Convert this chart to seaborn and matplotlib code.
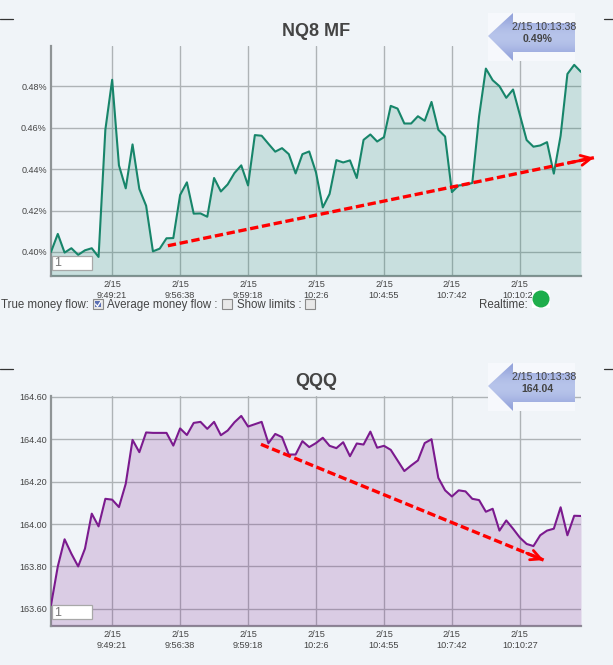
#!/usr/bin/env python3
import matplotlib
matplotlib.use('Agg')
import matplotlib.pyplot as plt
from matplotlib.patches import Polygon, Rectangle, Circle
import numpy as np
import pandas as pd
import seaborn as sns

TICK_POS = [9, 19, 29, 39, 49, 59, 69]
TICK_TIMES = ['9:49:21', '9:56:38', '9:59:18', '10:2:6', '10:4:55', '10:7:42', '10:10:27']

MF_VALUES = [
    0.4000, 0.4087, 0.3997, 0.4018, 0.3986, 0.4008, 0.4018, 0.3976, 0.4590, 0.4831,
    0.4418, 0.4307, 0.4519, 0.4304, 0.4223, 0.4003, 0.4016, 0.4066, 0.4067, 0.4275,
    0.4336, 0.4185, 0.4186, 0.4170, 0.4357, 0.4292, 0.4326, 0.4381, 0.4418, 0.4321,
    0.4564, 0.4561, 0.4522, 0.4484, 0.4501, 0.4472, 0.4379, 0.4472, 0.4485, 0.4384,
    0.4215, 0.4280, 0.4443, 0.4432, 0.4442, 0.4357, 0.4541, 0.4567, 0.4533, 0.4554,
    0.4705, 0.4692, 0.4620, 0.4620, 0.4655, 0.4633, 0.4724, 0.4590, 0.4557, 0.4289,
    0.4321, 0.4324, 0.4333, 0.4654, 0.4885, 0.4829, 0.4800, 0.4744, 0.4784, 0.4662,
    0.4540, 0.4508, 0.4514, 0.4530, 0.4378, 0.4561, 0.4859, 0.4903, 0.4869,
]
QQQ_VALUES = [
    163.617, 163.800, 163.928, 163.860, 163.800, 163.884, 164.049, 163.989, 164.119, 164.115,
    164.080, 164.190, 164.397, 164.339, 164.432, 164.430, 164.430, 164.430, 164.370, 164.451,
    164.420, 164.477, 164.482, 164.449, 164.482, 164.419, 164.441, 164.480, 164.510, 164.460,
    164.471, 164.482, 164.381, 164.425, 164.410, 164.328, 164.328, 164.391, 164.363, 164.382,
    164.407, 164.369, 164.358, 164.386, 164.320, 164.380, 164.375, 164.436, 164.360, 164.369,
    164.350, 164.300, 164.250, 164.276, 164.300, 164.382, 164.400, 164.218, 164.159, 164.130,
    164.159, 164.154, 164.119, 164.113, 164.058, 164.072, 163.969, 164.017, 163.978, 163.936,
    163.906, 163.896, 163.947, 163.969, 163.978, 164.079, 163.947, 164.039, 164.038,
]
MF_TICKS = [0.40, 0.42, 0.44, 0.46, 0.48]
QQQ_TICKS = [163.6, 163.8, 164.0, 164.2, 164.4, 164.6]
MF_TREND_X = [17.2, 79.9]
MF_TREND_Y = [0.4030, 0.4455]
QQQ_TREND_X = [30.9, 72.5]
QQQ_TREND_Y = [164.376, 163.830]

W, H = 613, 665
BG = '#f0f4f8'
TEXT = '#444444'
GRID = '#aeb3b6'
EDGE = '#8f9496'
FONT = ['Liberation Sans', 'DejaVu Sans']

sns.set_theme(style='white')
plt.rcParams['font.family'] = FONT


def px_axes(fig, left, top, right, bottom):
    return fig.add_axes([left / W, 1 - bottom / H, (right - left) / W, (bottom - top) / H])


def draw_panel(ax, values, color, ylim, yticks, yfmt, trend_x, trend_y):
    df = pd.DataFrame({'idx': np.arange(len(values)), 'value': values})
    ax.set_facecolor(BG)
    ax.fill_between(df['idx'], df['value'], ylim[0], color=color, alpha=0.18, lw=0, zorder=3)
    sns.lineplot(data=df, x='idx', y='value', color=color, linewidth=1.5, ax=ax, zorder=4)
    ax.set_xlim(0, len(values) - 1)
    ax.set_ylim(*ylim)
    ax.set_xticks(TICK_POS)
    ax.set_xticklabels(['2/15\n' + t for t in TICK_TIMES], fontsize=6.6, color=TEXT, linespacing=1.25)
    ax.set_yticks(yticks)
    ax.set_yticklabels([yfmt.format(v) for v in yticks], fontsize=6.5, color=TEXT)
    ax.set_xlabel('')
    ax.set_ylabel('')
    ax.tick_params(axis='both', length=0, pad=3)
    ax.grid(True, color=GRID, linewidth=1, zorder=1)
    ax.set_axisbelow(True)
    for side in ['top', 'right']:
        ax.spines[side].set_visible(False)
    for side in ['left', 'bottom']:
        ax.spines[side].set_color(EDGE)
        ax.spines[side].set_linewidth(1.6)

    # trend arrow, head drawn separately so it stays solid
    ax.plot(trend_x, trend_y, color='#ff0000', linewidth=2.4, linestyle=(0, (2.5, 1.1)),
            clip_on=False, zorder=6)
    ax.annotate('', xy=(trend_x[1], trend_y[1]),
                xytext=(trend_x[1] - 0.06 * (trend_x[1] - trend_x[0]),
                        trend_y[1] - 0.06 * (trend_y[1] - trend_y[0])),
                arrowprops=dict(arrowstyle='->,head_width=0.3,head_length=0.6', color='#ff0000',
                                lw=2, shrinkA=0, shrinkB=0),
                annotation_clip=False, zorder=6)


def draw_callout(ov, dy, stamp, value):
    ov.add_patch(Rectangle((488, 13 + dy), 87, 48, fc='#f6f8fc', ec='none', zorder=1))
    # soft blue shading for the arrow shape
    shade = np.array([[0.0], [0.6], [1.0], [1.0], [0.6], [0.0]])
    grad = np.dstack([0.58 + 0.14 * shade, 0.64 + 0.13 * shade, 0.86 + 0.06 * shade])
    img = ov.imshow(grad, extent=(488, 575, 61 + dy, 13 + dy), aspect='auto',
                    interpolation='bicubic', zorder=2)
    arrow = Polygon([(488, 36 + dy), (513, 13 + dy), (513, 23 + dy), (575, 23 + dy),
                     (575, 52 + dy), (513, 52 + dy), (513, 61 + dy)],
                    fc='none', ec='none', transform=ov.transData)
    ov.add_patch(arrow)
    img.set_clip_path(arrow)
    ov.text(576, 27 + dy, stamp, ha='right', va='center', fontsize=7.6, color=TEXT, zorder=4)
    ov.text(538, 39 + dy, value, ha='center', va='center', fontsize=7.6, color=TEXT,
            fontweight='bold', zorder=4)


def draw_input(ov, top):
    ov.add_patch(Rectangle((51.5, top), 40, 14, fc='white', ec='#a8a8a8', lw=0.9, zorder=5))
    ov.text(54, top + 7.5, '1', ha='left', va='center', fontsize=9, color='#777777', zorder=6)


def draw_checkbox(ov, cx, cy, checked=False):
    ov.add_patch(Rectangle((cx - 5, cy - 5), 10, 10, fc='#e8e8e8', ec='#8a8a8a', lw=0.8, zorder=5))
    if checked:
        ov.add_patch(Rectangle((cx - 3, cy - 3), 6, 6, fc='#5a6fb4', ec='none', zorder=6))
        ov.plot([cx - 2.5, cx - 0.5, cx + 3], [cy, cy + 2.5, cy - 3], color='white', lw=0.9, zorder=7)


fig = plt.figure(figsize=(W / 100, H / 100), dpi=100, facecolor=BG)

ax_mf = px_axes(fig, 51, 46, 581, 276)
draw_panel(ax_mf, MF_VALUES, '#17856a', (0.3884, 0.4994), MF_TICKS, '{:.2f}%',
           MF_TREND_X, MF_TREND_Y)

ax_qqq = px_axes(fig, 51, 396, 581, 626)
draw_panel(ax_qqq, QQQ_VALUES, '#7b1a8e', (163.519, 164.604), QQQ_TICKS, '{:.2f}',
           QQQ_TREND_X, QQQ_TREND_Y)

# page furniture around the charts, in pixel coordinates
ov = fig.add_axes([0, 0, 1, 1], zorder=10)
ov.patch.set_alpha(0)

ov.text(316, 32, 'NQ8 MF', ha='center', va='center', fontsize=13, fontweight='bold', color=TEXT)
ov.text(316, 382, 'QQQ', ha='center', va='center', fontsize=13, fontweight='bold', color=TEXT)

for y in [19, 369]:
    ov.plot([0, 13], [y, y], color='#333333', lw=0.9)
    ov.plot([604, 613], [y, y], color='#333333', lw=0.9)

draw_callout(ov, 0, '2/15 10:13:38', '0.49%')
draw_callout(ov, 350, '2/15 10:13:38', '164.04')
draw_input(ov, 255.5)
draw_input(ov, 605)

ov.text(1, 305, 'True money flow:', ha='left', va='center', fontsize=8.3, color=TEXT)
draw_checkbox(ov, 98, 304, checked=True)
ov.text(107, 305, 'Average money flow :', ha='left', va='center', fontsize=8.3, color=TEXT)
draw_checkbox(ov, 227, 304)
ov.text(237, 305, 'Show limits :', ha='left', va='center', fontsize=8.3, color=TEXT)
draw_checkbox(ov, 310, 304)
ov.text(479, 305, 'Realtime:', ha='left', va='center', fontsize=8.3, color=TEXT)
ov.add_patch(Rectangle((532, 290), 18, 18, fc='white', ec='none', zorder=2))
ov.add_patch(Circle((541, 299), 8.5, fc='#1fae4b', ec='none', zorder=3))

# imshow resets the limits, so fix the pixel frame last
ov.set_xlim(0, W)
ov.set_ylim(H, 0)
ov.axis('off')

fig.savefig('out.png', dpi=100, facecolor=BG)
